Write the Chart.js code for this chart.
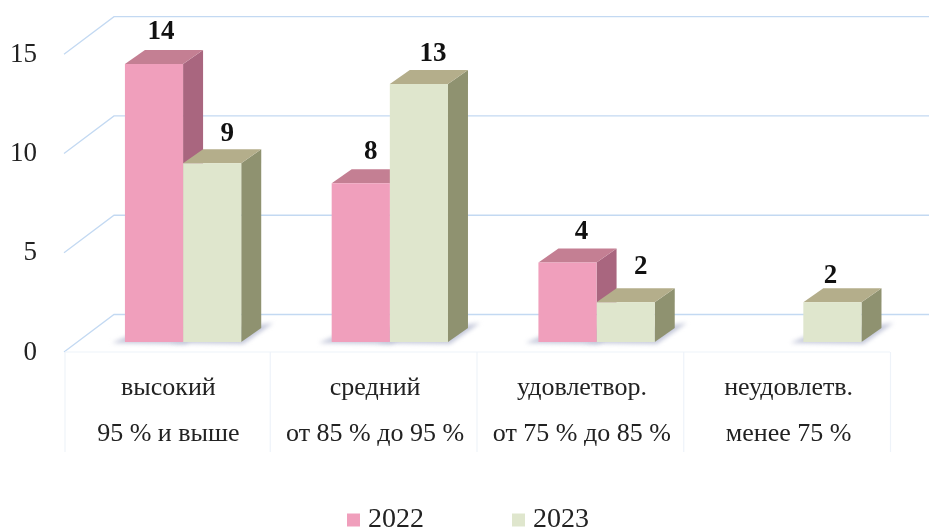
<!DOCTYPE html>
<html><head><meta charset="utf-8">
<style>html,body{margin:0;padding:0;background:#fff}canvas{display:block;filter:blur(0.4px)}</style>
<script src="https://cdn.jsdelivr.net/npm/chart.js@4"></script>
</head><body><canvas id="c" width="929" height="529"></canvas>
<script>
const categories = [
  ["высокий", "95 % и выше"],
  ["средний", "от 85 % до 95 %"],
  ["удовлетвор.", "от 75 % до 85 %"],
  ["неудовлетв.", "менее 75 %"]
];
const series2022 = [14, 8, 4, null];
const series2023 = [9, 13, 2, 2];
const name2022 = "2022";
const name2023 = "2023";
const yMax = 15;
const yStep = 5;
const labelDx2022 = [7, 10, 14, 0];
const labelDy2022 = [-18, -17, -17, 0];
const labelDx2023 = [15, 14, 15, -2];
const labelDy2023 = [-15, -16, -21, -12];

const SERIF = '"Liberation Serif", serif';
const BAR_SHIFT = 14.7, DX = 20, DY = 14;
const FACES = [
  {front:'#f09fbc', top:'#c47f93', side:'#a9667f', dx:labelDx2022, dy:labelDy2022},
  {front:'#dfe6cd', top:'#b4ae8b', side:'#8f9270', dx:labelDx2023, dy:labelDy2023}
];
function poly(ctx, pts, fill){
  ctx.beginPath();
  pts.forEach((p,i)=> i?ctx.lineTo(p[0],p[1]):ctx.moveTo(p[0],p[1]));
  ctx.closePath(); ctx.fillStyle=fill; ctx.fill();
}
const bars3d = {
  id:'bars3d',
  beforeLayout(chart){
    const lg = chart.legend;
    if(lg && !lg._wrapped){
      const f = lg.fit;
      lg.fit = function(){ f.call(this); this.height = 42; };
      lg._wrapped = true;
    }
  },
  afterLayout(chart){
    const lg = chart.legend;
    lg.top = 412; lg.left += 25; lg.right += 25;
  },
  beforeDatasetsDraw(chart){
    const {ctx, scales:{x,y}} = chart;
    const n = categories.length, step = (x.right-x.left)/n, back=50, up=37.5;
    ctx.save();
    // walls and floor
    ctx.strokeStyle='#c3d9f2'; ctx.lineWidth=1.3;
    for(let v=0;v<=yMax;v+=yStep){
      const p=y.getPixelForValue(v), fy=p+10;
      ctx.beginPath(); ctx.moveTo(x.left-1,fy); ctx.lineTo(x.left-1+back,fy-up); ctx.lineTo(chart.width,fy-up); ctx.stroke();
    }
    ctx.strokeStyle='#eef3f9'; ctx.lineWidth=1.2;
    const fl=y.getPixelForValue(0)+10;
    ctx.beginPath(); ctx.moveTo(x.left,fl); ctx.lineTo(x.left+n*step-2,fl);
    for(let i=0;i<=n;i++){ const px=x.left+i*step-(i?1.5:0); ctx.moveTo(px,fl); ctx.lineTo(px,fl+100); }
    ctx.stroke();
    // soft shadows at the foot of the bars
    ctx.translate(BAR_SHIFT,0);
    ctx.save();
    ctx.filter='blur(2px)';
    chart.data.datasets.forEach((ds,i)=>chart.getDatasetMeta(i).data.forEach((el,j)=>{
      if(ds.data[j]==null) return;
      const l=el.x-el.width/2, r=el.x+el.width/2, b=el.base;
      poly(ctx,[[l-13,b+1],[l+8,b-8],[r+DX+12,b-DY-5],[r+2,b+2]],'#c4c8da');
    }));
    ctx.restore();
    // side and top faces, 2022 behind 2023
    chart.data.datasets.forEach((ds,i)=>chart.getDatasetMeta(i).data.forEach((el,j)=>{
      if(ds.data[j]==null) return;
      const c=FACES[i], l=el.x-el.width/2, r=el.x+el.width/2, t=el.y, b=el.base;
      poly(ctx,[[r,t],[r+DX,t-DY],[r+DX,b-DY],[r,b]],c.side);
      poly(ctx,[[l,t],[r,t],[r+DX,t-DY],[l+DX,t-DY]],c.top);
    }));
    ctx.restore();
  },
  beforeDatasetDraw(chart){ chart.ctx.save(); chart.ctx.translate(BAR_SHIFT,0); },
  afterDatasetDraw(chart){ chart.ctx.restore(); },
  afterDatasetsDraw(chart){
    const {ctx}=chart;
    ctx.save();
    ctx.font='bold 27px '+SERIF; ctx.fillStyle='#111'; ctx.textAlign='center'; ctx.textBaseline='middle';
    chart.data.datasets.forEach((ds,i)=>{
      chart.getDatasetMeta(i).data.forEach((el,j)=>{
        if(ds.data[j]==null) return;
        ctx.fillText(String(ds.data[j]), el.x+BAR_SHIFT+FACES[i].dx[j], el.y-DY+FACES[i].dy[j]);
      });
    });
    ctx.restore();
  }
};
new Chart(document.getElementById('c'),{
  type:'bar',
  data:{labels:categories,datasets:[
    {label:name2022,data:series2022,backgroundColor:FACES[0].front,clip:false,pointStyle:'rect',borderWidth:0},
    {label:name2023,data:series2023,backgroundColor:FACES[1].front,clip:false,pointStyle:'rect',borderWidth:0}
  ]},
  options:{
    responsive:false,animation:false,
    categoryPercentage:0.5625,barPercentage:1,
    layout:{padding:{top:43.5,left:0,right:37,bottom:0}},
    scales:{
      x:{grid:{display:false,drawTicks:false},border:{display:false},
        afterFit(s){s.height=145;},
        ticks:{autoSkip:false,maxRotation:0,minRotation:0,padding:23,color:'#222',
          font:{family:SERIF,size:26,lineHeight:1.77}}},
      y:{min:0,max:yMax,grid:{display:false,drawTicks:false},border:{display:false},
        afterFit(s){s.width=65;},
        ticks:{stepSize:yStep,padding:28,labelOffset:10.5,color:'#222',font:{family:SERIF,size:27}}}
    },
    plugins:{
      tooltip:{enabled:false},
      legend:{position:'bottom',labels:{usePointStyle:true,pointStyle:'rect',boxWidth:1,boxHeight:13,padding:94,color:'#222',
        font:{family:SERIF,size:28}}}
    }
  },
  plugins:[bars3d]
});
</script></body></html>
